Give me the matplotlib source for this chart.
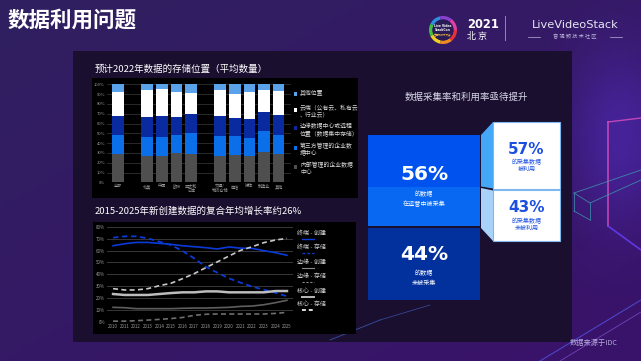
import numpy as np
import matplotlib
matplotlib.use("Agg")
import matplotlib.pyplot as plt
from matplotlib.patches import Rectangle, Polygon, Circle, Wedge

plt.rcParams['font.family'] = ['Noto Sans CJK SC', 'DejaVu Sans']

W, H = 641, 361

# ---------------- data ----------------
bar_categories = ['全部', '北美', '中国', '欧洲', '亚太和\n日本',
                  '交通/\n物流仓储', '电信', '媒体', '制造业', '其他']
seg_labels = ['内部管理的企业数据\n中心', '第三方管理的企业数\n据中心',
              '边缘数据中心或远程\n位置（数据集中存储）', '云端（公有云、私有云\n、行业云）', '其他位置']
inhouse = [28.6, 26.5, 26.5, 30.0, 28.6, 26.5, 27.9, 26.5, 31.3, 28.6]
third_party = [19.7, 19.8, 19.8, 18.3, 21.4, 20.8, 19.4, 19.1, 20.7, 19.7]
edge_dc = [19.0, 20.0, 21.7, 18.4, 20.0, 20.7, 18.7, 19.4, 19.4, 20.1]
cloud = [25.2, 27.6, 27.6, 25.8, 21.2, 25.9, 23.8, 27.5, 22.8, 25.1]
other_loc = [7.5, 6.1, 4.4, 7.5, 8.8, 6.1, 10.2, 7.5, 5.8, 6.5]
bar_yticks = ['0%', '10%', '20%', '30%', '40%', '50%', '60%', '70%', '80%', '90%', '100%']

years = list(range(2010, 2026))
endpoint_create = [64.0, 65.7, 66.8, 66.8, 66.0, 65.2, 64.0, 63.2, 62.4, 61.3, 63.0, 62.0, 61.8, 59.9, 58.2, 56.0]
endpoint_store = [70.8, 71.9, 71.9, 70.2, 67.4, 64.6, 59.6, 53.4, 46.4, 41.4, 36.6, 33.0, 29.7, 27.1, 24.6, 21.5]
edge_create = [23.5, 22.7, 22.7, 22.7, 23.5, 24.3, 24.9, 24.9, 25.7, 25.7, 24.9, 24.9, 24.9, 24.9, 26.0, 26.0]
edge_store = [28.0, 26.9, 26.9, 28.0, 30.5, 32.5, 36.4, 40.6, 45.6, 50.5, 55.4, 60.1, 63.2, 66.6, 68.8, 70.2]
core_create = [12.3, 12.0, 11.2, 11.2, 11.2, 11.2, 11.5, 11.7, 11.7, 12.0, 12.3, 13.1, 13.4, 14.5, 16.2, 18.2]
core_store = [0.7, 0.7, 1.1, 1.6, 2.2, 2.9, 3.8, 5.6, 6.5, 6.7, 6.7, 6.7, 6.7, 6.7, 7.2, 8.1]
line_labels = ['终端 - 创建', '终端 - 存储', '边缘 - 创建', '边缘 - 存储', '核心 - 创建', '核心 - 存储']
line_yticks = ['0%', '10%', '20%', '30%', '40%', '50%', '60%', '70%', '80%']

collected_pct = 56
not_collected_pct = 44
used_pct = 57
unused_pct = 43

# ---------------- figure ----------------
fig = plt.figure(figsize=(W / 100, H / 100), dpi=100)
fig.patch.set_facecolor('#2e1d5c')

bg = fig.add_axes([0, 0, 1, 1])
bg.set_xlim(0, W)
bg.set_ylim(H, 0)
bg.axis('off')

# background gradient
gx = np.linspace(0, 1, 200)
gy = np.linspace(0, 1, 120)
GX, GY = np.meshgrid(gx, gy)
c1 = np.array([0x30, 0x20, 0x60]) / 255
c2 = np.array([0x3a, 0x12, 0x6a]) / 255
t = np.clip(0.5 * GX + 0.5 * GY, 0, 1)[..., None]
img = c1 * (1 - t) + c2 * t
bg.imshow(img, extent=[0, W, H, 0], aspect='auto', zorder=0)
glow = np.exp(-(((GX - 0.97) / 0.08) ** 2 + ((GY - 0.38) / 0.25) ** 2))[..., None]
gimg = np.concatenate([np.ones_like(glow) * np.array([0.35, 0.2, 0.85]), glow * 0.45], axis=2)
bg.imshow(gimg, extent=[0, W, H, 0], aspect='auto', zorder=0.5)

# dark content panel
bg.add_patch(Rectangle((73, 51), 499, 291, facecolor='#1b0f30', edgecolor='none', zorder=1))

# decorative neon lines
deco = [((608, 122), (608, 226), '#e050c0', 1.2),
        ((608, 122), (641, 118), '#e050c0', 1.0),
        ((574, 193), (641, 170), '#3aa0b0', 0.6),
        ((574, 193), (590, 203), '#3aa0b0', 0.6),
        ((590, 203), (641, 180), '#3aa0b0', 0.6),
        ((574, 193), (574, 211), '#3aa0b0', 0.6),
        ((590, 203), (590, 220), '#3aa0b0', 0.6),
        ((574, 211), (590, 220), '#3aa0b0', 0.6),
        ((608, 226), (641, 250), '#6a40ff', 1.2),
        ((540, 361), (641, 300), '#5050e0', 0.8),
        ((560, 361), (641, 312), '#8050d0', 0.6),
        ((330, 340), (380, 320), '#4060c0', 0.6),
        ((380, 320), (430, 305), '#4060c0', 0.5)]
for (p0, p1, col, lw) in deco:
    bg.plot([p0[0], p1[0]], [p0[1], p1[1]], color=col, lw=lw, alpha=0.8, zorder=1.5)

# title
bg.text(8, 20, '数据利用问题', color='white', fontsize=15.5, fontweight='bold',
        va='center', ha='left', zorder=5)

# logo
cx, cy, r = 443, 30, 14
ring_cols = ['#e8303a', '#f08a20', '#f0d020', '#40c040', '#2a90e0', '#8a40d0', '#e040a0']
n = len(ring_cols)
for i, col in enumerate(ring_cols):
    bg.add_patch(Wedge((cx, cy), r, i * 360 / n, (i + 1) * 360 / n, width=3.5,
                       facecolor=col, edgecolor='none', zorder=4))
bg.add_patch(Circle((cx, cy), r - 3.5, facecolor='#2a1a55', edgecolor='none', zorder=4))
bg.text(cx, cy - 2, 'Live Video\nStackCon', color='white', fontsize=2.2, fontweight='bold',
        ha='center', va='center', zorder=5, family='DejaVu Sans', linespacing=0.9)
bg.text(cx, cy + 5, '音视频技术大会', color='#f0c040', fontsize=1.8, ha='center', va='center', zorder=5)
bg.text(467, 24, '2021', color='white', fontsize=8.3, fontweight='bold', va='center', ha='left',
        family='DejaVu Sans', zorder=5)
bg.text(467, 36, '北 京', color='white', fontsize=6.5, va='center', ha='left', zorder=5)
bg.plot([505, 505], [16, 40], color='#8f86b8', lw=0.7, zorder=5)
bg.text(575, 25, 'LiveVideoStack', color='#e6e6f2', fontsize=8.2, va='center', ha='center',
        family='DejaVu Sans', zorder=5)
bg.text(575, 36.5, '音 视 频 技 术 社 区', color='#b8b4d8', fontsize=3.8, va='center', ha='center', zorder=5)
bg.plot([528, 540], [36.5, 36.5], color='#b8b4d8', lw=0.5, zorder=5)
bg.plot([610, 622], [36.5, 36.5], color='#b8b4d8', lw=0.5, zorder=5)

# ---------------- bar chart ----------------
bg.add_patch(Rectangle((92, 78), 266, 120, facecolor='#000000', edgecolor='none', zorder=2))
bg.text(95, 69, '预计2022年数据的存储位置（平均数量）', color='white', fontsize=6.8,
        va='center', ha='left', zorder=5)


def axrect(x0, y0, x1, y1):
    return [x0 / W, 1 - y1 / H, (x1 - x0) / W, (y1 - y0) / H]


axb = fig.add_axes(axrect(107, 84.3, 291, 182.3))
axb.set_facecolor('none')
gap_after = {0, 4}
pos = []
p = 0
for i in range(len(bar_categories)):
    pos.append(p)
    p += 2 if i in gap_after else 1
pos = np.array(pos, dtype=float)

seg_colors = ['#4f4f4f', '#0b6fea', '#0a2aa0', '#ffffff', '#5aa2ea']
series = [inhouse, third_party, edge_dc, cloud, other_loc]
bottom = np.zeros(len(pos))
for vals, col in zip(series, seg_colors):
    v = np.array(vals) / 100
    axb.bar(pos, v, bottom=bottom, width=0.8, color=col, edgecolor='none', zorder=3)
    bottom += v
axb.set_xlim(-0.75, 11.85)
axb.set_ylim(0, 1)
axb.set_yticks(np.arange(0, 1.01, 0.1))
axb.set_yticklabels(bar_yticks)
axb.yaxis.grid(True, color='#3a3a3a', lw=0.5, zorder=0)
axb.set_xticks(pos)
axb.set_xticklabels(bar_categories, linespacing=1.0)
axb.tick_params(axis='both', colors='#9a9a9a', labelsize=3.0, length=0, pad=1.5)
for s in axb.spines.values():
    s.set_visible(False)

# bar legend
leg_y = [94, 110, 128, 148, 167]
for lab, col, yy in zip(seg_labels[::-1], seg_colors[::-1], leg_y):
    bg.add_patch(Rectangle((294, yy - 1.6), 3.2, 3.2, facecolor=col, edgecolor='none', zorder=5))
    nlines = lab.count('\n') + 1
    bg.text(300, yy - 1.5 if nlines == 1 else yy + 1.5, lab, color='#d8d8d8', fontsize=4.2,
            va='center', ha='left', linespacing=1.25, zorder=5)

# ---------------- line chart ----------------
bg.add_patch(Rectangle((93, 222), 263, 112, facecolor='#000000', edgecolor='none', zorder=2))
bg.text(95, 211, '2015-2025年新创建数据的复合年均增长率约26%', color='white', fontsize=6.8,
        va='center', ha='left', zorder=5)

axl = fig.add_axes(axrect(107, 226.7, 293, 322))
axl.set_facecolor('none')
line_series = [endpoint_create, endpoint_store, edge_create, edge_store, core_create, core_store]
line_styles = [dict(color='#0a3ad8', lw=1.2, ls='-'),
               dict(color='#0a3ad8', lw=1.3, ls=(0, (3, 2))),
               dict(color='#bdbdbd', lw=1.8, ls='-'),
               dict(color='#c8c8c8', lw=1.2, ls=(0, (3, 2))),
               dict(color='#5e5e5e', lw=1.2, ls='-'),
               dict(color='#6e6e6e', lw=1.2, ls=(0, (3, 2)))]
for vals, st in zip(line_series, line_styles):
    axl.plot(years, np.array(vals) / 100, zorder=3, **st)
axl.set_xlim(2010 - 0.52, 2025 + 0.52)
axl.set_ylim(0, 0.8)
axl.set_yticks(np.arange(0, 0.81, 0.1))
axl.set_yticklabels(line_yticks)
axl.yaxis.grid(True, color='#404040', lw=0.6, zorder=0)
axl.set_xticks(years)
axl.set_xticklabels([str(y) for y in years])
axl.tick_params(axis='both', colors='#9a9a9a', labelsize=3.2, length=0, pad=1.5)
for s in axl.spines.values():
    s.set_visible(False)

leg_ly = [233, 247, 262, 276, 291, 304]
leg_sample = [dict(color='#0a3ad8', lw=1.0, ls='-'),
              dict(color='#0a3ad8', lw=1.0, ls=(0, (2, 1.5))),
              dict(color='#8a8a8a', lw=0.8, ls='-'),
              dict(color='#8a8a8a', lw=0.8, ls=(0, (2, 1.5))),
              dict(color='#bbbbbb', lw=1.4, ls='-'),
              dict(color='#dddddd', lw=1.4, ls=(0, (2, 1.5)))]
for lab, yy, st in zip(line_labels, leg_ly, leg_sample):
    bg.text(297, yy, lab, color='#d0d0d0', fontsize=4.3, va='center', ha='left', zorder=5)
    bg.plot([302, 314], [yy + 5.5, yy + 5.5], zorder=5, **st)

# ---------------- right infographic ----------------
bg.text(466, 97, '数据采集率和利用率亟待提升', color='#d8d8e8', fontsize=6.8,
        va='center', ha='center', zorder=5)

bg.add_patch(Rectangle((368, 135), 112, 52, facecolor='#0052ee', edgecolor='none', zorder=3))
bg.add_patch(Rectangle((368, 187), 112, 39, facecolor='#0868f2', edgecolor='none', zorder=3))
bg.add_patch(Rectangle((368, 228), 112, 72, facecolor='#02319e', edgecolor='none', zorder=3))
bg.add_patch(Polygon([(481, 135), (493, 122), (493, 188.5), (481, 186.5)], closed=True,
                     facecolor='#45a8f6', edgecolor='none', zorder=3))
bg.add_patch(Polygon([(481, 188), (493, 190.5), (493, 241), (481, 228)], closed=True,
                     facecolor='#a9d2fb', edgecolor='none', zorder=3))
bg.add_patch(Rectangle((493, 122), 67, 66.5, facecolor='white', edgecolor='#7fb8f0', lw=0.8, zorder=3))
bg.add_patch(Rectangle((493, 190), 67, 51, facecolor='white', edgecolor='#7fb8f0', lw=0.8, zorder=3))

bg.text(424, 175, f'{collected_pct}%', color='white', fontsize=14.5, fontweight='bold',
        ha='center', va='center', family='DejaVu Sans', zorder=5)
bg.text(424, 199, '的数据\n在运营中被采集', color='white', fontsize=4.4, ha='center', va='center',
        linespacing=1.4, zorder=5)
bg.text(424, 255, f'{not_collected_pct}%', color='white', fontsize=14.5, fontweight='bold',
        ha='center', va='center', family='DejaVu Sans', zorder=5)
bg.text(424, 278, '的数据\n未被采集', color='white', fontsize=4.4, ha='center', va='center',
        linespacing=1.4, zorder=5)
bg.text(526.5, 149, f'{used_pct}%', color='#1a4fe0', fontsize=11, fontweight='bold',
        ha='center', va='center', family='DejaVu Sans', zorder=5)
bg.text(526.5, 165, '的采集数据\n被利用', color='#1a4fe0', fontsize=4.3, ha='center', va='center',
        linespacing=1.4, zorder=5)
bg.text(526.5, 208, f'{unused_pct}%', color='#1a4fe0', fontsize=11, fontweight='bold',
        ha='center', va='center', family='DejaVu Sans', zorder=5)
bg.text(526.5, 224, '的采集数据\n未被利用', color='#1a4fe0', fontsize=4.3, ha='center', va='center',
        linespacing=1.4, zorder=5)

bg.text(594, 343, '数据来源于IDC', color='#b4acdc', fontsize=5.2, ha='center', va='center', zorder=5)

fig.savefig('out.png', dpi=100, facecolor=fig.get_facecolor())
